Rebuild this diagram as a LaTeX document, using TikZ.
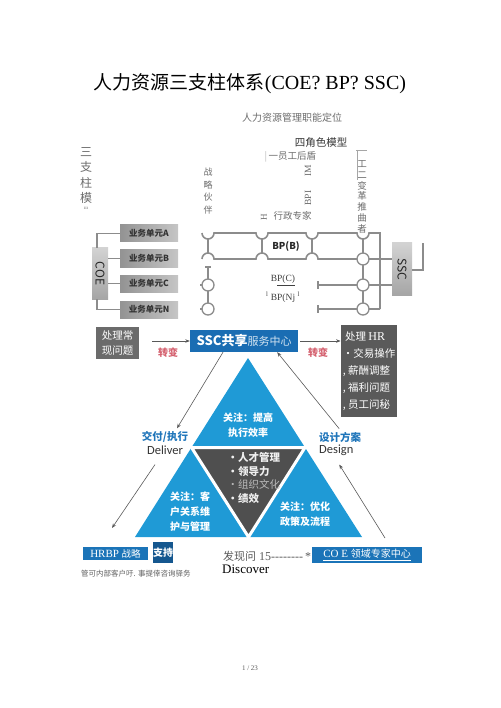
\documentclass[tikz,border=0pt]{standalone}
\usepackage{fontspec}
\usepackage{tikz}
\usetikzlibrary{arrows.meta}
\setmainfont{Liberation Serif}
\newfontfamily\cjk{Noto Sans CJK SC}
\newfontfamily\latsans{Carlito}
\definecolor{triblue}{HTML}{1F9AD6}
\definecolor{sscblue}{HTML}{1A6DB3}
\definecolor{coreGray}{HTML}{4F4F4F}
\definecolor{boxGray}{HTML}{5A5A5A}
\definecolor{wireGray}{HTML}{8C8C8C}
\definecolor{turnRed}{HTML}{D4606E}
\definecolor{labBlue}{HTML}{1F75BA}

\begin{document}
\begin{tikzpicture}[x=1pt,y=-1pt,
  wire/.style={draw=wireGray,line width=1.6pt},
  junc/.style={circle,draw=wireGray,fill=white,line width=1.3pt,minimum size=12pt,inner sep=0pt},
  unit/.style={left color=gray!85,right color=gray!45,minimum width=58pt,minimum height=17pt,
    inner sep=0pt,font=\cjk\bfseries\fontsize{8.5}{9}\selectfont,text=black!80},
  side/.style={top color=gray!35,bottom color=gray!70,inner sep=0pt},
  sidetxt/.style={rotate=-90,font=\cjk\fontsize{12}{12}\selectfont,text=black!85},
  darkbox/.style={fill=boxGray,text=white,align=left,inner sep=2pt},
  onblue/.style={text=white,font=\cjk\bfseries\fontsize{10}{15}\selectfont,align=center},
  soft/.style={text=gray!85!black,align=center},
  turn/.style={text=turnRed,font=\cjk\bfseries\fontsize{10}{12}\selectfont},
  flowcn/.style={text=labBlue,font=\cjk\bfseries\fontsize{10.5}{12}\selectfont,inner sep=1pt},
  flowen/.style={text=black!80,font=\latsans\fontsize{12.5}{13}\selectfont,inner sep=1pt},
  arr/.style={draw=gray!70!black,line width=.6pt,-{Stealth[length=4.5pt,width=3.5pt]}}
]
\useasboundingbox (0,0) rectangle (500,708);

% titles
\node (title) at (250,84) {\fontsize{20}{24}\selectfont{\cjk\fontsize{19}{24}\selectfont 人力资源三支柱体系}(COE? BP? SSC)};
\node[soft,font=\cjk\fontsize{10}{12}\selectfont] (subtitle) at (292,118) {人力资源管理职能定位};
\node[font=\cjk\fontsize{10.5}{12}\selectfont,text=black!80] (model4) at (321,143) {四角色模型};

% vertical captions
\node[soft,anchor=north,font=\cjk\fontsize{12}{15.5}\selectfont] (pillar) at (86,144) {三\\支\\柱\\模\\[-9pt]{\rmfamily\fontsize{5}{5}\selectfont ııı}};
\node[soft,font=\cjk\fontsize{9}{12.5}\selectfont] (partner) at (208,191) {战\\略\\伙\\伴};
\node[soft,anchor=west,font=\cjk\fontsize{9.5}{12}\selectfont] (backing) at (261,157) {{\color{gray!55}|}\,一员工后盾};
\node[soft,rotate=90,font=\fontsize{9.5}{10}\selectfont] (im) at (308,171) {IM};
\node[soft,rotate=90,font=\fontsize{9.5}{10}\selectfont] (bpi) at (308,198) {BPI};
\node[soft,rotate=90,font=\fontsize{9}{10}\selectfont] (hmark) at (264,217) {H};
\node[soft,anchor=west,font=\cjk\fontsize{9.5}{12}\selectfont] (admin) at (270,216) {行政专家};
\node[soft,anchor=north,font=\cjk\fontsize{9.5}{10.8}\selectfont] (change) at (362,157) {工\\二\\变\\革\\推\\曲\\者};
\draw[gray!70,line width=.6pt] (356,150) -- (367,150) (357,150) -- (357,180);

% COE and business units
\node[side,minimum width=16pt,minimum height=51pt] (coe) at (100,273.5) {};
\node[sidetxt] (coetxt) at (coe) {COE};
\foreach \k/\yy in {A/233.5,B/258.5,C/283.5,N/309.5}
  \node[unit] (u\k) at (149,\yy) {业务单元\k};
\draw[wire] ([xshift=-3pt]coe.north) |- (uA.west);
\draw[wire] ([xshift=-3pt]coe.south) |- (uN.west);
\draw[wire] (coe.east |- uB) -- (uB.west);
\draw[wire] (coe.east |- uC) -- (uC.west);

% BP track
\draw[wire] (202,233) arc[start angle=180,end angle=0,radius=6] -- (256,233)
  arc[start angle=180,end angle=0,radius=6] -- (306,233)
  arc[start angle=180,end angle=0,radius=6] -- (357,233)
  arc[start angle=180,end angle=0,radius=6] -- (380,233) -- (380,309);
\draw[wire] (202,259) arc[start angle=180,end angle=360,radius=6] -- (256,259)
  arc[start angle=180,end angle=360,radius=6] -- (306,259)
  arc[start angle=180,end angle=360,radius=6] -- (392,259);
\foreach \x in {208,262,312}
  \draw[wire] (\x,239) -- (\x,253);
\draw[wire] (363,239) -- (363,309);
\draw[wire] (318,285) -- (392,285) (318,281) -- (318,289);
\draw[wire] (318,309) -- (380,309) (318,305) -- (318,313);
\draw[wire] (205,267) -- (211,267) (208,267) -- (208,309);
\draw[wire] (200,285) -- (208,285) (200,309) -- (208,309);
\node[junc] (jl3) at (208,285) {};
\node[junc] (jl4) at (208,309) {};
\foreach \yy/\n in {259/2,285/3,309/4}
  \node[junc] (jr\n) at (363,\yy) {};
\node[side,minimum width=20pt,minimum height=52pt] (ssc) at (402,269) {};
\node[sidetxt] (ssctxt) at (ssc) {SSC};
\coordinate (sscup) at (423,243);
\draw[wire] ([yshift=-1pt]ssc.east) -| (sscup);

\node[font=\cjk\bfseries\fontsize{9.5}{10}\selectfont,text=black!85] (bpb) at (286,246) {BP(B)};
\node[font=\fontsize{9.5}{10}\selectfont,text=black!75] (bpc) at (283,280) {B\underline{P(C)}};
\node[font=\fontsize{9.5}{10}\selectfont,text=black!75] (bpn) at (283,297) {\textsuperscript{l} BP(Nj \textsuperscript{l}};

% SSC row
\node[darkbox,minimum width=43pt,minimum height=32pt,font=\cjk\fontsize{10.5}{15}\selectfont,fill=boxGray!90] (oldjob) at (117.5,343) {处理常\\现问题};
\node[fill=sscblue,minimum width=108pt,minimum height=22pt,inner sep=0pt,text=white] (sscbox) at (244,341)
  {{\cjk\bfseries\fontsize{13}{14}\selectfont SSC共享}{\cjk\fontsize{11}{14}\selectfont\color{white!80!sscblue}服务中心}};
\node[darkbox,minimum width=56pt,minimum height=92pt,font=\cjk\fontsize{10.5}{17}\selectfont] (hrbox) at (369,371)
  {\ 处理 {\rmfamily\fontsize{12}{17}\selectfont HR}\\•交易操作\\, 薪酬调整\\, 福利问题\\, 员工问秘};
\draw[arr] ([xshift=13pt,yshift=2pt]oldjob.east) -- (sscbox.west);
\draw[arr] ([xshift=2pt]sscbox.east) -- (sscbox.east -| hrbox.west);
\node[turn] (turn1) at (168,353) {转变};
\node[turn] (turn2) at (318,353) {转变};

% triangle
\coordinate (A) at (248,358);
\coordinate (B) at (135,537);
\coordinate (C) at (362,537);
\coordinate (D) at (191.5,447.5);
\coordinate (E) at (305,447.5);
\coordinate (F) at (248.5,537);
\fill[triblue] (A) -- (B) -- (C) -- cycle;
\fill[coreGray] (D) -- (E) -- (F) -- cycle;
\draw[white,line width=3pt,line join=bevel] (D) -- (E) -- (F) -- cycle;
\node[onblue] (ftop) at (248,425) {关注：提高\\执行效率};
\node[onblue] (fleft) at (190,512) {关注：客\\户关系维\\护与管理};
\node[onblue] (fright) at (305,514) {关注：优化\\政策及流程};
\node[anchor=north west,align=left,text=gray!12,font=\cjk\bfseries\fontsize{10.5}{13.5}\selectfont] (fcore) at (224,449)
  {•人才管理\\•领导力\\{\mdseries\color{gray!55}•组织文化}\\•绩效};

\node[flowcn] (deliver) at (165,437) {交付/执行};
\node[flowen] (deliverEn) at (165,450) {Deliver};
\node[flowcn,anchor=west] (design) at (318,437) {设计方案};
\node[flowen,anchor=west] (designEn) at (318,450) {Design};
\coordinate (dlvend) at (112,528);
\coordinate (dsgstart) at (385,538);
\draw[arr] ([xshift=-21pt]sscbox.south) -- ([xshift=12pt,yshift=2pt]deliver.north);
\draw[arr] ([xshift=-1pt,yshift=2pt]design.north) -- ([xshift=-21pt]sscbox.south east);
\draw[arr] ([xshift=-10pt,yshift=-9pt]deliverEn.south) -- (dlvend);
\draw[arr] (dsgstart) -- ([xshift=3pt,yshift=-8pt]designEn.south);

% bottom row
\node[fill=sscblue!85!triblue,minimum width=65pt,minimum height=13pt,inner sep=0pt,text=white] (hrbp) at (115.5,553.5)
  {\fontsize{11}{12}\selectfont HRBP {\cjk\fontsize{9.5}{12}\selectfont 战略}};
\node[fill=sscblue!80!black,minimum width=20pt,minimum height=21pt,inner sep=0pt,text=white,font=\cjk\bfseries\fontsize{10}{12}\selectfont] (support) at (163,552.5) {支持};
\node[anchor=west,text=gray!75!black,font=\cjk\fontsize{7.5}{9}\selectfont,inner sep=0pt] (note) at (81,574) {管可内部客户吁. 事提倖咨询驿务};
\node[anchor=west,text=gray!70!black,inner sep=0pt] (found) at (223,556)
  {{\cjk\fontsize{11}{12}\selectfont 发现问}\fontsize{12}{13}\selectfont\ 15-{}-{}-{}-{}-{}-{}-{}-\,*};
\node[anchor=west,inner sep=0pt,font=\fontsize{13}{14}\selectfont] (discover) at (222,569) {Discover};
\node[fill=sscblue!85!triblue,minimum width=110pt,minimum height=16pt,inner sep=0pt,text=white] (coebox) at (367,555)
  {\underline{\fontsize{11}{12}\selectfont CO E {\cjk\fontsize{10}{12}\selectfont 领域专家中心}}};

\node[text=gray!70!black,font=\fontsize{7}{8}\selectfont] (pageno) at (250,668) {1 / 23};
\end{tikzpicture}
\end{document}
